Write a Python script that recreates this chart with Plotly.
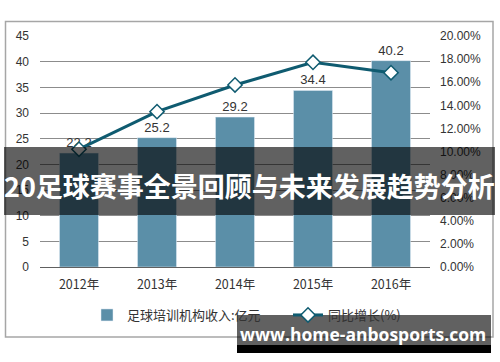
import plotly.graph_objects as go

years = ["2012年", "2013年", "2014年", "2015年", "2016年"]
revenue = [22.2, 25.2, 29.2, 34.4, 40.2]
growth = [0.102, 0.1345, 0.1576, 0.1772, 0.1682]
left_ticks = [0, 5, 10, 15, 20, 25, 30, 35, 40, 45]
right_ticks = [0, 0.02, 0.04, 0.06, 0.08, 0.10, 0.12, 0.14, 0.16, 0.18, 0.20]
bar_name = "足球培训机构收入:亿元"
line_name = "同比增长(%)"
banner_text = "20足球赛事全景回顾与未来发展趋势分析"
watermark_text = "www.home-anbosports.com"

W, H = 500, 362
L, R, T, B = 40, 430, 36, 267  # plot area in px
pw, ph = R - L, B - T

def px(x):
    return (x - L) / pw

def py(y):
    return (B - y) / ph

BAR_COLOR = "#5b8fa8"
LINE_COLOR = "#0f5b70"
TXT = "#333333"
FONT = "Liberation Sans, Arial, Noto Sans CJK SC, sans-serif"
CJK = "Noto Sans CJK SC, Liberation Sans, sans-serif"

fig = go.Figure()
fig.add_trace(go.Bar(
    x=years, y=revenue, name=bar_name, marker_color=BAR_COLOR,
    width=0.5, text=[f"{v:.1f}" for v in revenue], textposition="outside",
    textfont=dict(size=13, color=TXT, family=FONT), cliponaxis=False,
    legend="legend",
))
fig.add_trace(go.Scatter(
    x=years, y=growth, name=line_name, yaxis="y2", mode="lines+markers",
    line=dict(color=LINE_COLOR, width=3),
    marker=dict(symbol="diamond", size=11, color="white",
                line=dict(color=LINE_COLOR, width=1.5)),
    cliponaxis=False, legend="legend2",
))

shapes = [
    dict(type="rect", xref="paper", yref="paper", x0=px(5.5), x1=px(493),
         y0=py(337), y1=py(21.5), line=dict(color="#a6a6a6", width=1.5),
         fillcolor="rgba(0,0,0,0)", layer="below"),
    dict(type="rect", xref="paper", yref="paper", x0=px(4), x1=px(495),
         y0=py(215), y1=py(147), line=dict(width=0),
         fillcolor="rgba(0,0,0,0.62)", layer="above"),
    dict(type="rect", xref="paper", yref="paper", x0=px(237), x1=px(491),
         y0=py(345), y1=py(315), line=dict(width=0),
         fillcolor="rgba(0,0,0,0.62)", layer="above"),
    dict(type="rect", xref="paper", yref="paper", x0=px(237), x1=px(491),
         y0=py(353), y1=py(345), line=dict(width=0),
         fillcolor="#000000", layer="above"),
]

annotations = [
    dict(text=f"<b>{banner_text}</b>", xref="paper", yref="paper",
         x=px(249.5), y=py(185), xanchor="center", yanchor="middle",
         showarrow=False, font=dict(size=27, color="white", family=CJK)),
    dict(text=f"<b>{watermark_text}</b>", xref="paper", yref="paper",
         x=px(363), y=py(334), xanchor="center", yanchor="middle",
         showarrow=False, font=dict(size=17.5, color="white", family="Open Sans, DejaVu Sans, sans-serif")),
]

legend_common = dict(orientation="h", xanchor="left", yanchor="middle",
                     font=dict(size=13, color=TXT, family=CJK), itemwidth=30,
                     bgcolor="rgba(0,0,0,0)")

fig.update_layout(
    width=W, height=H,
    margin=dict(l=L, r=W - R, t=T, b=H - B, pad=0),
    paper_bgcolor="white", plot_bgcolor="white",
    showlegend=True,
    legend=dict(legend_common, x=px(87), y=py(315)),
    legend2=dict(legend_common, x=px(288), y=py(315)),
    xaxis=dict(showgrid=False, showline=True, linecolor="#606060", linewidth=1,
               tickfont=dict(size=12.5, color=TXT, family=CJK), ticks="",
               ticklabelstandoff=6),
    yaxis=dict(range=[0, 45], tickvals=left_ticks, showgrid=True, gridcolor="#8c8c8c",
               gridwidth=1, zeroline=False, showline=False, ticks="",
               tickfont=dict(size=12, color=TXT, family=FONT), ticklabelstandoff=10),
    yaxis2=dict(range=[0, 0.2], tickvals=right_ticks, tickformat=".2%", overlaying="y",
                side="right", showgrid=False, zeroline=False, showline=False, ticks="",
                tickfont=dict(size=12, color=TXT, family=FONT), ticklabelstandoff=9),
    shapes=shapes, annotations=annotations,
)

fig.write_html("out.html", config={"displayModeBar": False},
               post_script="document.body.style.margin='0';")
